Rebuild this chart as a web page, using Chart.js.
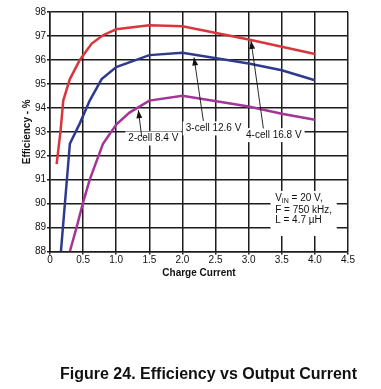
<!DOCTYPE html>
<html><head><meta charset="utf-8">
<script src="https://cdn.jsdelivr.net/npm/chart.js@4.4.1/dist/chart.umd.min.js"></script>
<style>html,body{margin:0;padding:0;background:#fff;overflow:hidden}#wrap{width:381px;height:389px;position:relative}</style>
</head><body><div id="wrap"><canvas id="c" width="381" height="389"></canvas></div>
<script>
// ---- data ----
const seriesLabels = ['4-cell 16.8 V', '3-cell 12.6 V', '2-cell 8.4 V'];
const current4Cell = [0.1, 0.16, 0.2, 0.3, 0.45, 0.63, 0.8, 1.0, 1.5, 2.0, 3.0, 4.0];
const eff4Cell     = [91.65, 93.05, 94.3, 95.2, 96.0, 96.68, 97.03, 97.28, 97.45, 97.4, 96.85, 96.25];
const current3Cell = [0.165, 0.3, 0.45, 0.6, 0.78, 1.0, 1.5, 2.0, 3.0, 3.5, 4.0];
const eff3Cell     = [88.0, 92.5, 93.35, 94.3, 95.2, 95.7, 96.2, 96.3, 95.85, 95.57, 95.15];
const current2Cell = [0.3, 0.4, 0.5, 0.6, 0.8, 1.0, 1.2, 1.5, 2.0, 3.0, 3.5, 4.0];
const eff2Cell     = [88.0, 89.0, 90.05, 91.0, 92.5, 93.3, 93.8, 94.3, 94.5, 94.05, 93.75, 93.5];
const conditionLines = [['V', 'IN', ' = 20 V,'], ['F = 750 kHz,'], ['L = 4.7 µH']];
const xTitle = 'Charge Current';
const yTitle = 'Efficiency - %';
const caption = 'Figure 24. Efficiency vs Output Current';

const FONT = '"Liberation Sans", Arial, Helvetica, sans-serif';
const GRID = '#1c1c1c';

function pts(xs, ys) { return xs.map((x, i) => ({x, y: ys[i]})); }

// callout positions in data units
const callouts = [
  {text: seriesLabels[2], tx: 1.183, ty: 92.72, from: [1.385, 92.80], to: [1.334, 93.90]},
  {text: seriesLabels[1], tx: 2.05,  ty: 93.14, from: [2.316, 93.45], to: [2.175, 96.10]},
  {text: seriesLabels[0], tx: 2.96,  ty: 92.86, from: [3.222, 93.14], to: [3.036, 96.79]}
];
const condBox = {x0: 3.33, x1: 4.33, y0: 90.53, y1: 88.65, tx: 3.40, ty: [90.22, 89.74, 89.32]};

const overlay = {
  id: 'overlay',
  beforeDatasetsDraw(chart) {
    const {ctx, scales: {x, y}} = chart;
    ctx.save();
    ctx.fillStyle = '#fff';
    ctx.font = '10px ' + FONT;
    callouts.forEach(c => {
      const w = ctx.measureText(c.text).width;
      const px = x.getPixelForValue(c.tx), py = y.getPixelForValue(c.ty);
      ctx.fillRect(px - 3, py - 7, w + 6, 14);
    });
    const bx0 = x.getPixelForValue(condBox.x0), bx1 = x.getPixelForValue(condBox.x1);
    const by0 = y.getPixelForValue(condBox.y0), by1 = y.getPixelForValue(condBox.y1);
    ctx.fillRect(bx0, by0, bx1 - bx0, by1 - by0);
    ctx.restore();
  },
  afterDatasetsDraw(chart) {
    const {ctx, scales: {x, y}} = chart;
    ctx.save();
    ctx.fillStyle = '#111';
    ctx.strokeStyle = '#111';
    ctx.font = '10px ' + FONT;
    ctx.textBaseline = 'middle';
    ctx.textAlign = 'left';
    callouts.forEach(c => {
      const px = x.getPixelForValue(c.tx), py = y.getPixelForValue(c.ty);
      ctx.fillText(c.text, px, py);
      const ax = x.getPixelForValue(c.from[0]), ay = y.getPixelForValue(c.from[1]);
      const bx = x.getPixelForValue(c.to[0]), by = y.getPixelForValue(c.to[1]);
      ctx.lineWidth = 0.9;
      ctx.beginPath(); ctx.moveTo(ax, ay); ctx.lineTo(bx, by); ctx.stroke();
      const ang = Math.atan2(by - ay, bx - ax);
      const L = 8, W = 3;
      ctx.beginPath();
      ctx.moveTo(bx, by);
      ctx.lineTo(bx - L * Math.cos(ang) + W * Math.sin(ang), by - L * Math.sin(ang) - W * Math.cos(ang));
      ctx.lineTo(bx - L * Math.cos(ang) - W * Math.sin(ang), by - L * Math.sin(ang) + W * Math.cos(ang));
      ctx.closePath(); ctx.fill();
    });
    // conditions text
    const tx = x.getPixelForValue(condBox.tx);
    conditionLines.forEach((parts, i) => {
      const ty = y.getPixelForValue(condBox.ty[i]);
      if (parts.length === 3) {
        ctx.font = '10px ' + FONT;
        ctx.fillText(parts[0], tx, ty);
        let cx = tx + ctx.measureText(parts[0]).width;
        ctx.font = '7px ' + FONT;
        ctx.fillText(parts[1], cx, ty + 3);
        cx += ctx.measureText(parts[1]).width;
        ctx.font = '10px ' + FONT;
        ctx.fillText(parts[2], cx, ty);
      } else {
        ctx.font = '10px ' + FONT;
        ctx.fillText(parts[0], tx, ty);
      }
    });
    ctx.restore();
  },
  afterDraw(chart) {
    const {ctx} = chart;
    ctx.save();
    ctx.fillStyle = '#111';
    ctx.font = 'bold 16px ' + FONT;
    ctx.textAlign = 'center';
    ctx.textBaseline = 'alphabetic';
    ctx.fillText(caption, 208.5, 379);
    ctx.restore();
  }
};

new Chart(document.getElementById('c'), {
  type: 'scatter',
  data: {
    datasets: [
      {label: seriesLabels[0], data: pts(current4Cell, eff4Cell), borderColor: '#d9353d'},
      {label: seriesLabels[1], data: pts(current3Cell, eff3Cell), borderColor: '#2f3a8e'},
      {label: seriesLabels[2], data: pts(current2Cell, eff2Cell), borderColor: '#a43597'}
    ].map(d => Object.assign(d, {showLine: true, borderWidth: 2.5, pointRadius: 0, tension: 0, fill: false}))
  },
  options: {
    responsive: false,
    animation: false,
    devicePixelRatio: 1,
    layout: {padding: {left: 20, right: 33, top: 12, bottom: 110}},
    plugins: {legend: {display: false}, tooltip: {enabled: false}},
    scales: {
      x: {
        type: 'linear', min: 0, max: 4.5,
        ticks: {stepSize: 0.5, color: '#111', font: {family: FONT, size: 10}, padding: 0, maxRotation: 0, autoSkip: false},
        grid: {color: GRID, lineWidth: 1.5, tickLength: 3},
        border: {color: GRID, width: 1.5},
        title: {display: true, text: xTitle, color: '#111', font: {family: FONT, size: 10, weight: 'bold'}, padding: {top: 0, bottom: 0}},
        afterFit(s) { s.height = 27.5; }
      },
      y: {
        min: 88, max: 98,
        ticks: {stepSize: 1, color: '#111', font: {family: FONT, size: 10}, padding: 1},
        grid: {color: GRID, lineWidth: 1.5, tickLength: 3},
        border: {color: GRID, width: 1.5},
        title: {display: true, text: yTitle, color: '#111', font: {family: FONT, size: 10, weight: 'bold'}, padding: {top: 1, bottom: 0}},
        afterFit(s) { s.width = 30; }
      }
    }
  },
  plugins: [overlay]
});
</script></body></html>
